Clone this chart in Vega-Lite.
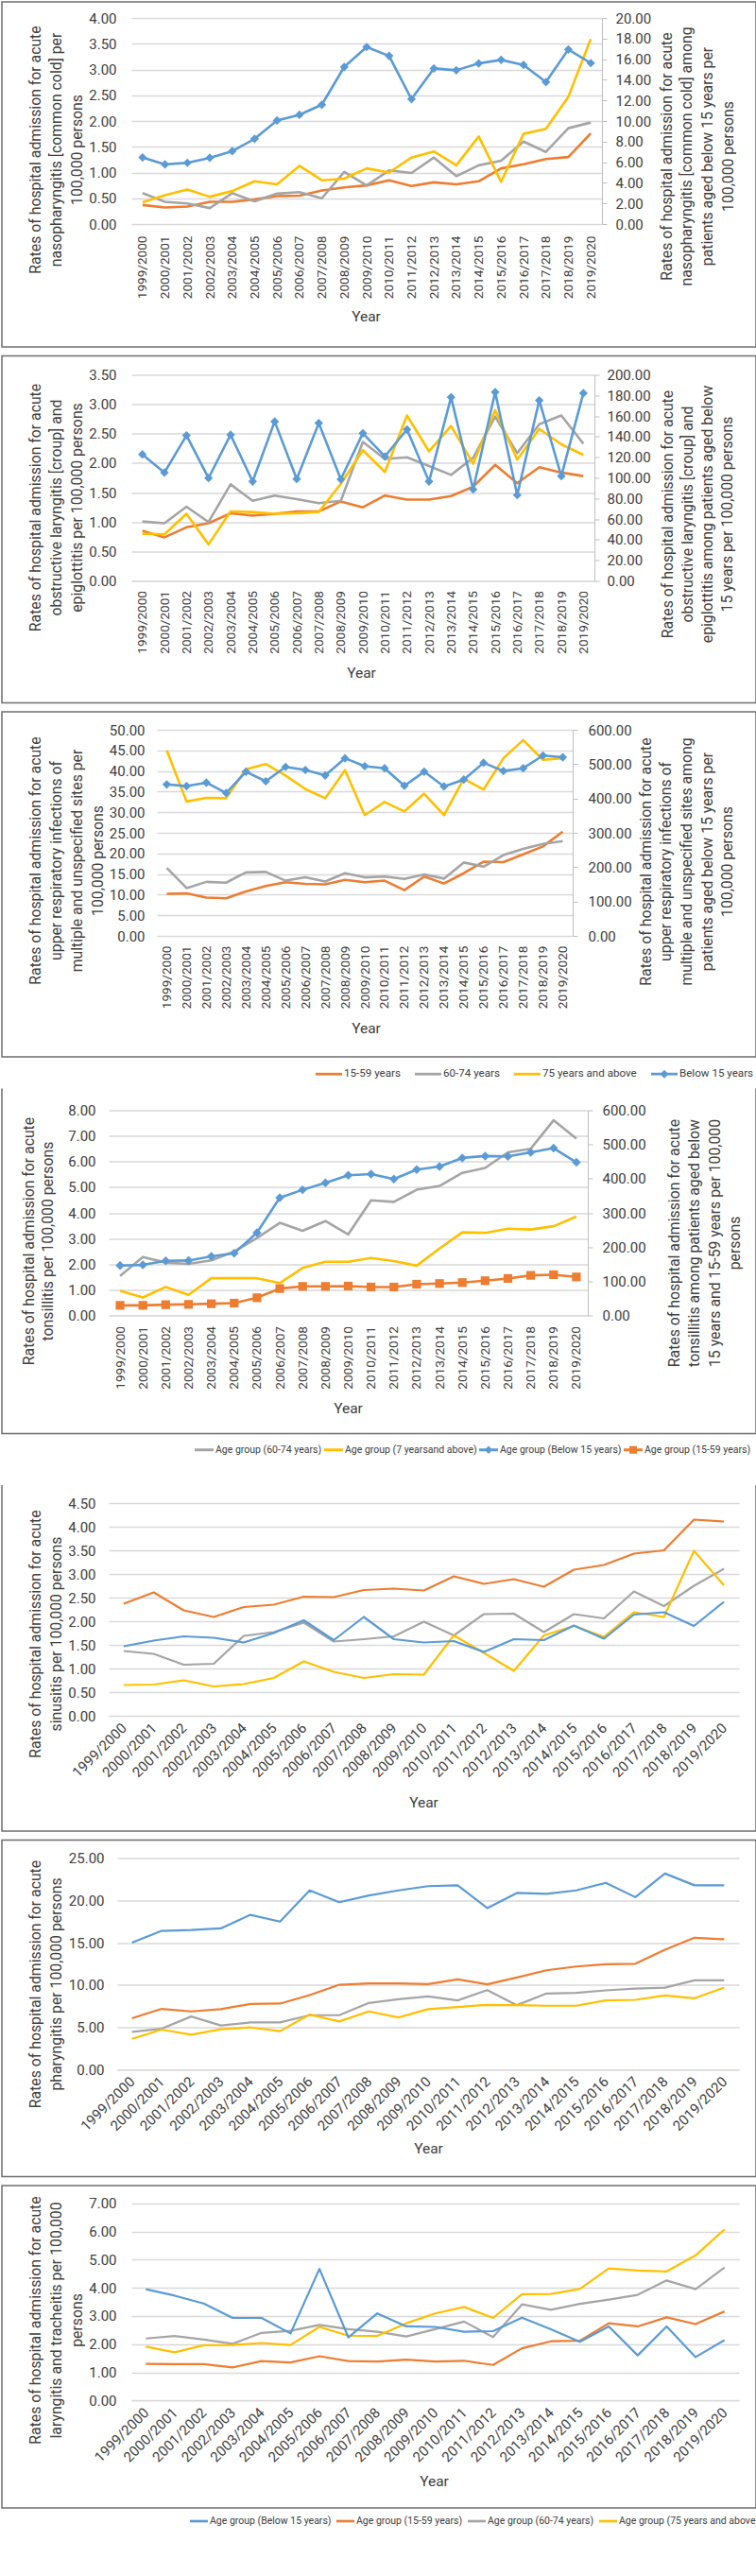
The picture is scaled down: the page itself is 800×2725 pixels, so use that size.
{
"$schema": "https://vega.github.io/schema/vega-lite/v6.json",
"padding": {"left": 1, "top": 1, "right": 1, "bottom": 1},
"background": "white",
"spacing": 7.5,
"config": {
 "view": {"stroke": "#6E6E6E", "strokeWidth": 1.5},
 "font": "Roboto",
 "axis": {"labelFont": "Roboto", "labelColor": "#404040", "labelFontSize": 15, "titleFont": "Roboto", "titleFontSize": 15.8, "titleFontWeight": "normal", "titleColor": "#404040", "gridColor": "#D9D9D9", "gridWidth": 1.3},
 "legend": {"labelFont": "Roboto", "labelColor": "#404040"}
},
"resolve": {"scale": {"color": "independent", "shape": "independent", "stroke": "independent"}, "legend": {"color": "independent", "shape": "independent", "stroke": "independent"}},
"datasets": {
 "p1": [
  {"year":"1999/2000","a":0.37,"b":0.60,"c":0.42,"d":6.46},
  {"year":"2000/2001","a":0.32,"b":0.43,"c":0.56,"d":5.79},
  {"year":"2001/2002","a":0.34,"b":0.40,"c":0.67,"d":5.94},
  {"year":"2002/2003","a":0.43,"b":0.31,"c":0.53,"d":6.43},
  {"year":"2003/2004","a":0.43,"b":0.60,"c":0.64,"d":7.07},
  {"year":"2004/2005","a":0.48,"b":0.44,"c":0.83,"d":8.27},
  {"year":"2005/2006","a":0.54,"b":0.59,"c":0.77,"d":10.05},
  {"year":"2006/2007","a":0.55,"b":0.62,"c":1.13,"d":10.60},
  {"year":"2007/2008","a":0.65,"b":0.50,"c":0.85,"d":11.58},
  {"year":"2008/2009","a":0.71,"b":1.01,"c":0.88,"d":15.25},
  {"year":"2009/2010","a":0.75,"b":0.75,"c":1.08,"d":17.18},
  {"year":"2010/2011","a":0.85,"b":1.04,"c":1.00,"d":16.32},
  {"year":"2011/2012","a":0.74,"b":0.99,"c":1.29,"d":12.13},
  {"year":"2012/2013","a":0.81,"b":1.29,"c":1.41,"d":15.10},
  {"year":"2013/2014","a":0.77,"b":0.93,"c":1.14,"d":14.92},
  {"year":"2014/2015","a":0.83,"b":1.14,"c":1.70,"d":15.59},
  {"year":"2015/2016","a":1.08,"b":1.23,"c":0.82,"d":15.93},
  {"year":"2016/2017","a":1.16,"b":1.60,"c":1.75,"d":15.44},
  {"year":"2017/2018","a":1.26,"b":1.40,"c":1.85,"d":13.78},
  {"year":"2018/2019","a":1.30,"b":1.86,"c":2.47,"d":16.94},
  {"year":"2019/2020","a":1.76,"b":1.97,"c":3.59,"d":15.62}
 ],
 "p2": [
  {"year":"1999/2000","a":0.85,"b":1.01,"c":0.80,"d":122.8},
  {"year":"2000/2001","a":0.74,"b":0.98,"c":0.79,"d":105.1},
  {"year":"2001/2002","a":0.91,"b":1.26,"c":1.14,"d":141.2},
  {"year":"2002/2003","a":0.98,"b":1.00,"c":0.62,"d":99.8},
  {"year":"2003/2004","a":1.15,"b":1.64,"c":1.18,"d":141.8},
  {"year":"2004/2005","a":1.11,"b":1.36,"c":1.17,"d":96.5},
  {"year":"2005/2006","a":1.14,"b":1.45,"c":1.14,"d":154.7},
  {"year":"2006/2007","a":1.18,"b":1.39,"c":1.15,"d":98.9},
  {"year":"2007/2008","a":1.18,"b":1.32,"c":1.17,"d":153.1},
  {"year":"2008/2009","a":1.35,"b":1.36,"c":1.65,"d":98.6},
  {"year":"2009/2010","a":1.25,"b":2.36,"c":2.22,"d":143.3},
  {"year":"2010/2011","a":1.45,"b":2.07,"c":1.85,"d":120.7},
  {"year":"2011/2012","a":1.38,"b":2.10,"c":2.81,"d":147.0},
  {"year":"2012/2013","a":1.38,"b":1.95,"c":2.20,"d":96.5},
  {"year":"2013/2014","a":1.44,"b":1.80,"c":2.63,"d":178.3},
  {"year":"2014/2015","a":1.60,"b":2.09,"c":1.99,"d":88.8},
  {"year":"2015/2016","a":1.97,"b":2.79,"c":2.90,"d":183.2},
  {"year":"2016/2017","a":1.66,"b":2.17,"c":2.06,"d":83.3},
  {"year":"2017/2018","a":1.93,"b":2.66,"c":2.58,"d":175.2},
  {"year":"2018/2019","a":1.84,"b":2.81,"c":2.32,"d":101.7},
  {"year":"2019/2020","a":1.78,"b":2.33,"c":2.14,"d":182.2}
 ],
 "p3": [
  {"year":"1999/2000","a":10.2,"b":16.5,"c":45.0,"d":441},
  {"year":"2000/2001","a":10.3,"b":11.6,"c":32.6,"d":436},
  {"year":"2001/2002","a":9.3,"b":13.1,"c":33.5,"d":446},
  {"year":"2002/2003","a":9.1,"b":12.9,"c":33.4,"d":416},
  {"year":"2003/2004","a":10.8,"b":15.4,"c":40.4,"d":478},
  {"year":"2004/2005","a":12.1,"b":15.5,"c":41.7,"d":450},
  {"year":"2005/2006","a":13.0,"b":13.4,"c":38.9,"d":492},
  {"year":"2006/2007","a":12.6,"b":14.2,"c":35.6,"d":483},
  {"year":"2007/2008","a":12.5,"b":13.2,"c":33.4,"d":467},
  {"year":"2008/2009","a":13.6,"b":15.2,"c":40.2,"d":517},
  {"year":"2009/2010","a":13.0,"b":14.2,"c":29.3,"d":494},
  {"year":"2010/2011","a":13.4,"b":14.4,"c":32.5,"d":488},
  {"year":"2011/2012","a":11.1,"b":13.8,"c":30.2,"d":437},
  {"year":"2012/2013","a":14.4,"b":14.9,"c":34.5,"d":478},
  {"year":"2013/2014","a":12.7,"b":13.9,"c":29.3,"d":435},
  {"year":"2014/2015","a":15.2,"b":17.8,"c":38.1,"d":455},
  {"year":"2015/2016","a":18.0,"b":16.8,"c":35.5,"d":504},
  {"year":"2016/2017","a":17.9,"b":19.6,"c":43.1,"d":480},
  {"year":"2017/2018","a":19.8,"b":21.1,"c":47.5,"d":488},
  {"year":"2018/2019","a":21.7,"b":22.3,"c":42.7,"d":525},
  {"year":"2019/2020","a":25.3,"b":23.0,"c":43.1,"d":520}
 ],
 "p4": [
  {"year":"1999/2000","a":29.5,"b":1.54,"c":0.96,"d":145.8},
  {"year":"2000/2001","a":29.5,"b":2.28,"c":0.70,"d":147.7},
  {"year":"2001/2002","a":31.4,"b":2.06,"c":1.11,"d":159.7},
  {"year":"2002/2003","a":32.3,"b":2.01,"c":0.80,"d":160.6},
  {"year":"2003/2004","a":34.2,"b":2.15,"c":1.45,"d":172.6},
  {"year":"2004/2005","a":36.0,"b":2.49,"c":1.45,"d":181.8},
  {"year":"2005/2006","a":51.7,"b":3.02,"c":1.45,"d":241.8},
  {"year":"2006/2007","a":78.5,"b":3.61,"c":1.26,"d":344.3},
  {"year":"2007/2008","a":84.9,"b":3.30,"c":1.85,"d":367.4},
  {"year":"2008/2009","a":84.9,"b":3.68,"c":2.09,"d":387.7},
  {"year":"2009/2010","a":85.8,"b":3.16,"c":2.09,"d":409.8},
  {"year":"2010/2011","a":83.1,"b":4.49,"c":2.24,"d":413.5},
  {"year":"2011/2012","a":83.1,"b":4.43,"c":2.12,"d":398.8},
  {"year":"2012/2013","a":91.4,"b":4.90,"c":1.94,"d":426.5},
  {"year":"2013/2014","a":93.2,"b":5.05,"c":2.61,"d":435.7},
  {"year":"2014/2015","a":96.0,"b":5.56,"c":3.24,"d":460.6},
  {"year":"2015/2016","a":101.5,"b":5.75,"c":3.22,"d":466.2},
  {"year":"2016/2017","a":108.0,"b":6.36,"c":3.38,"d":465.2},
  {"year":"2017/2018","a":117.2,"b":6.50,"c":3.35,"d":477.2},
  {"year":"2018/2019","a":119.1,"b":7.61,"c":3.48,"d":489.2},
  {"year":"2019/2020","a":112.6,"b":6.89,"c":3.85,"d":447.7}
 ],
 "p5": [
  {"year":"1999/2000","a":2.37,"b":1.37,"c":0.65,"d":1.47},
  {"year":"2000/2001","a":2.61,"b":1.31,"c":0.66,"d":1.59},
  {"year":"2001/2002","a":2.23,"b":1.08,"c":0.75,"d":1.68},
  {"year":"2002/2003","a":2.09,"b":1.10,"c":0.62,"d":1.65},
  {"year":"2003/2004","a":2.30,"b":1.69,"c":0.67,"d":1.55},
  {"year":"2004/2005","a":2.35,"b":1.77,"c":0.80,"d":1.75},
  {"year":"2005/2006","a":2.52,"b":1.97,"c":1.15,"d":2.02},
  {"year":"2006/2007","a":2.51,"b":1.57,"c":0.93,"d":1.60},
  {"year":"2007/2008","a":2.66,"b":1.62,"c":0.80,"d":2.09},
  {"year":"2008/2009","a":2.69,"b":1.68,"c":0.88,"d":1.62},
  {"year":"2009/2010","a":2.65,"b":1.99,"c":0.87,"d":1.55},
  {"year":"2010/2011","a":2.95,"b":1.70,"c":1.70,"d":1.58},
  {"year":"2011/2012","a":2.79,"b":2.15,"c":1.33,"d":1.35},
  {"year":"2012/2013","a":2.89,"b":2.16,"c":0.95,"d":1.62},
  {"year":"2013/2014","a":2.73,"b":1.77,"c":1.70,"d":1.60},
  {"year":"2014/2015","a":3.09,"b":2.15,"c":1.90,"d":1.91},
  {"year":"2015/2016","a":3.19,"b":2.06,"c":1.67,"d":1.63},
  {"year":"2016/2017","a":3.43,"b":2.63,"c":2.19,"d":2.14},
  {"year":"2017/2018","a":3.50,"b":2.32,"c":2.09,"d":2.19},
  {"year":"2018/2019","a":4.15,"b":2.75,"c":3.49,"d":1.90},
  {"year":"2019/2020","a":4.11,"b":3.11,"c":2.76,"d":2.41}
 ],
 "p6": [
  {"year":"1999/2000","a":6.04,"b":4.44,"c":3.62,"d":15.0},
  {"year":"2000/2001","a":7.16,"b":4.81,"c":4.70,"d":16.4},
  {"year":"2001/2002","a":6.86,"b":6.26,"c":4.10,"d":16.5},
  {"year":"2002/2003","a":7.12,"b":5.19,"c":4.74,"d":16.7},
  {"year":"2003/2004","a":7.75,"b":5.56,"c":4.96,"d":18.3},
  {"year":"2004/2005","a":7.79,"b":5.56,"c":4.52,"d":17.5},
  {"year":"2005/2006","a":8.79,"b":6.41,"c":6.49,"d":21.2},
  {"year":"2006/2007","a":10.02,"b":6.41,"c":5.67,"d":19.8},
  {"year":"2007/2008","a":10.17,"b":7.86,"c":6.86,"d":20.6},
  {"year":"2008/2009","a":10.17,"b":8.31,"c":6.15,"d":21.2},
  {"year":"2009/2010","a":10.09,"b":8.64,"c":7.12,"d":21.7},
  {"year":"2010/2011","a":10.65,"b":8.16,"c":7.38,"d":21.8},
  {"year":"2011/2012","a":10.06,"b":9.39,"c":7.64,"d":19.1},
  {"year":"2012/2013","a":10.88,"b":7.60,"c":7.60,"d":20.9},
  {"year":"2013/2014","a":11.73,"b":8.98,"c":7.53,"d":20.8},
  {"year":"2014/2015","a":12.18,"b":9.05,"c":7.53,"d":21.2},
  {"year":"2015/2016","a":12.44,"b":9.35,"c":8.16,"d":22.1},
  {"year":"2016/2017","a":12.51,"b":9.57,"c":8.23,"d":20.4},
  {"year":"2017/2018","a":14.18,"b":9.68,"c":8.75,"d":23.2},
  {"year":"2018/2019","a":15.59,"b":10.54,"c":8.42,"d":21.8},
  {"year":"2019/2020","a":15.41,"b":10.54,"c":9.68,"d":21.8}
 ],
 "p7": [
  {"year":"1999/2000","a":1.30,"b":2.20,"c":1.91,"d":3.95},
  {"year":"2000/2001","a":1.29,"b":2.29,"c":1.71,"d":3.72},
  {"year":"2001/2002","a":1.29,"b":2.16,"c":1.96,"d":3.44},
  {"year":"2002/2003","a":1.17,"b":2.01,"c":1.97,"d":2.93},
  {"year":"2003/2004","a":1.40,"b":2.40,"c":2.04,"d":2.93},
  {"year":"2004/2005","a":1.35,"b":2.47,"c":1.97,"d":2.38},
  {"year":"2005/2006","a":1.57,"b":2.68,"c":2.61,"d":4.67},
  {"year":"2006/2007","a":1.40,"b":2.53,"c":2.30,"d":2.24},
  {"year":"2007/2008","a":1.38,"b":2.44,"c":2.29,"d":3.09},
  {"year":"2008/2009","a":1.45,"b":2.27,"c":2.74,"d":2.63},
  {"year":"2009/2010","a":1.38,"b":2.53,"c":3.09,"d":2.61},
  {"year":"2010/2011","a":1.41,"b":2.80,"c":3.32,"d":2.44},
  {"year":"2011/2012","a":1.26,"b":2.25,"c":2.93,"d":2.46},
  {"year":"2012/2013","a":1.85,"b":3.41,"c":3.77,"d":2.94},
  {"year":"2013/2014","a":2.10,"b":3.22,"c":3.78,"d":2.53},
  {"year":"2014/2015","a":2.12,"b":3.43,"c":3.96,"d":2.08},
  {"year":"2015/2016","a":2.74,"b":3.58,"c":4.69,"d":2.63},
  {"year":"2016/2017","a":2.63,"b":3.75,"c":4.61,"d":1.60},
  {"year":"2017/2018","a":2.95,"b":4.26,"c":4.58,"d":2.63},
  {"year":"2018/2019","a":2.71,"b":3.95,"c":5.15,"d":1.54},
  {"year":"2019/2020","a":3.16,"b":4.72,"c":6.07,"d":2.14}
 ]
},
"vconcat": [
 {
  "width": 798, "height": 365,
  "data": {"name": "p1"},
  "encoding": {"x": {"field": "year", "type": "ordinal",
    "scale": {"type": "point", "range": [137, 635], "padding": 0.5},
    "axis": {"orient": "bottom", "offset": -130, "domain": true, "domainColor": "#D9D9D9", "ticks": false, "tickSize": 0, "grid": false, "labelAngle": 270, "labelAlign": "right", "labelBaseline": "middle", "labelPadding": 12, "labelFontSize": 13.6,
      "title": "Year", "titleFontSize": 15.5, "titleX": 385, "titleY": 97, "titleAlign": "center", "titleBaseline": "middle", "titleAngle": 0}}},
  "layer": [
   {"transform": [{"fold": ["a", "b", "c"], "as": ["series", "rate"]}],
    "mark": {"type": "line", "strokeWidth": 2.6, "strokeJoin": "round"},
    "encoding": {
     "y": {"field": "rate", "type": "quantitative", "scale": {"domain": [0, 4], "range": [235, 17], "nice": false},
      "axis": {"orient": "left", "offset": -137, "values": [0, 0.5, 1, 1.5, 2, 2.5, 3, 3.5, 4], "format": ".2f", "domain": false, "ticks": false, "tickSize": 0, "labelPadding": 16, "grid": true,
       "title": ["Rates of hospital admission for acute", "nasopharyngitis [common cold] per", "100,000 persons"], "titleX": -102, "titleY": 156, "titleAngle": 270, "titleAlign": "center", "titleBaseline": "middle", "titleLineHeight": 22}},
     "stroke": {"field": "series", "type": "nominal", "scale": {"domain": ["a", "b", "c", "d"], "range": ["#ED7D31", "#A5A5A5", "#FFC000", "#5B9BD5"]}, "legend": null}}},
   {"encoding": {"y": {"field": "d", "type": "quantitative", "scale": {"domain": [0, 20], "range": [235, 17], "nice": false},
      "axis": {"orient": "right", "offset": -163, "values": [0, 2, 4, 6, 8, 10, 12, 14, 16, 18, 20], "format": ".2f", "domain": true, "domainColor": "#BFBFBF", "ticks": true, "tickSize": 5, "tickColor": "#BFBFBF", "labelPadding": 9, "grid": false,
       "title": ["Rates of hospital admission for acute", "nasopharyngitis [common cold] among", "patients aged below 15 years per", "100,000 persons"], "titleX": 68, "titleY": 163, "titleAngle": 270, "titleAlign": "center", "titleBaseline": "middle", "titleLineHeight": 21.7}}},
    "layer": [
     {"mark": {"type": "line", "color": "#5B9BD5", "strokeWidth": 2.6, "strokeJoin": "round"}, "encoding": {}},
     {"mark": {"type": "point", "shape": "diamond", "filled": true, "size": 85, "color": "#5B9BD5", "opacity": 1}}
    ]}
  ],
  "resolve": {"scale": {"y": "independent"}}
 },
 {
  "width": 798, "height": 367,
  "data": {"name": "p2"},
  "encoding": {"x": {"field": "year", "type": "ordinal",
    "scale": {"type": "point", "range": [137, 627], "padding": 0.5},
    "axis": {"orient": "bottom", "offset": -129, "domain": true, "domainColor": "#D9D9D9", "ticks": false, "tickSize": 0, "grid": false, "labelAngle": 270, "labelAlign": "right", "labelBaseline": "middle", "labelPadding": 10, "labelFontSize": 13.6,
      "title": "Year", "titleFontSize": 15.5, "titleX": 380, "titleY": 97, "titleAlign": "center", "titleBaseline": "middle", "titleAngle": 0}}},
  "layer": [
   {"transform": [{"fold": ["a", "b", "c"], "as": ["series", "rate"]}],
    "mark": {"type": "line", "strokeWidth": 2.6, "strokeJoin": "round"},
    "encoding": {
     "y": {"field": "rate", "type": "quantitative", "scale": {"domain": [0, 3.5], "range": [238, 20], "nice": false},
      "axis": {"orient": "left", "offset": -137, "values": [0, 0.5, 1, 1.5, 2, 2.5, 3, 3.5], "format": ".2f", "domain": false, "ticks": false, "tickSize": 0, "labelPadding": 16, "grid": true,
       "title": ["Rates of hospital admission for acute", "obstructive laryngitis [croup] and", "epiglottitis per 100,000 persons"], "titleX": -102, "titleY": 160, "titleAngle": 270, "titleAlign": "center", "titleBaseline": "middle", "titleLineHeight": 22}},
     "stroke": {"field": "series", "type": "nominal", "scale": {"domain": ["a", "b", "c", "d"], "range": ["#ED7D31", "#A5A5A5", "#FFC000", "#5B9BD5"]}, "legend": null}}},
   {"encoding": {"y": {"field": "d", "type": "quantitative", "scale": {"domain": [0, 200], "range": [238, 20], "nice": false},
      "axis": {"orient": "right", "offset": -171, "values": [0, 20, 40, 60, 80, 100, 120, 140, 160, 180, 200], "format": ".2f", "domain": true, "domainColor": "#BFBFBF", "ticks": true, "tickSize": 5, "tickColor": "#BFBFBF", "labelPadding": 8, "grid": false,
       "title": ["Rates of hospital admission for acute", "obstructive laryngitis [croup] and", "epiglottitis among patients aged below", "15 years per 100,000 persons"], "titleX": 77, "titleY": 167, "titleAngle": 270, "titleAlign": "center", "titleBaseline": "middle", "titleLineHeight": 21}}},
    "layer": [
     {"mark": {"type": "line", "color": "#5B9BD5", "strokeWidth": 2.6, "strokeJoin": "round"}, "encoding": {}},
     {"mark": {"type": "point", "shape": "diamond", "filled": true, "size": 85, "color": "#5B9BD5", "opacity": 1}}
    ]}
  ],
  "resolve": {"scale": {"y": "independent"}}
 },
 {
  "width": 798, "height": 365,
  "data": {"name": "p3"},
  "encoding": {"x": {"field": "year", "type": "ordinal",
    "scale": {"type": "point", "range": [164, 604], "padding": 0.5},
    "axis": {"orient": "bottom", "offset": -128, "domain": true, "domainColor": "#D9D9D9", "ticks": false, "tickSize": 0, "grid": false, "labelAngle": 270, "labelAlign": "right", "labelBaseline": "middle", "labelPadding": 10, "labelFontSize": 13.6,
      "title": "Year", "titleFontSize": 15.5, "titleX": 385, "titleY": 97, "titleAlign": "center", "titleBaseline": "middle", "titleAngle": 0}}},
  "layer": [
   {"transform": [{"fold": ["a", "b", "c"], "as": ["series", "rate"]}],
    "mark": {"type": "line", "strokeWidth": 2.6, "strokeJoin": "round"},
    "encoding": {
     "y": {"field": "rate", "type": "quantitative", "scale": {"domain": [0, 50], "range": [237, 19], "nice": false},
      "axis": {"orient": "left", "offset": -164, "values": [0, 5, 10, 15, 20, 25, 30, 35, 40, 45, 50], "format": ".2f", "domain": false, "ticks": false, "tickSize": 0, "labelPadding": 13, "grid": true,
       "title": ["Rates of hospital admission for acute", "upper respiratory infections of", "multiple and unspecified sites per", "100,000 persons"], "titleX": -129, "titleY": 157, "titleAngle": 270, "titleAlign": "center", "titleBaseline": "middle", "titleLineHeight": 22}},
     "stroke": {"field": "series", "type": "nominal", "scale": {"domain": ["a", "b", "c", "d"], "range": ["#ED7D31", "#A5A5A5", "#FFC000", "#5B9BD5"]}, "legend": null}}},
   {"encoding": {"y": {"field": "d", "type": "quantitative", "scale": {"domain": [0, 600], "range": [237, 19], "nice": false},
      "axis": {"orient": "right", "offset": -194, "values": [0, 100, 200, 300, 400, 500, 600], "format": ".2f", "domain": true, "domainColor": "#BFBFBF", "ticks": true, "tickSize": 5, "tickColor": "#BFBFBF", "labelPadding": 11, "grid": false,
       "title": ["Rates of hospital admission for acute", "upper respiratory infections of", "multiple and unspecified sites among", "patients aged below 15 years per", "100,000 persons"], "titleX": 77, "titleY": 158, "titleAngle": 270, "titleAlign": "center", "titleBaseline": "middle", "titleLineHeight": 21.7}}},
    "layer": [
     {"mark": {"type": "line", "color": "#5B9BD5", "strokeWidth": 2.6, "strokeJoin": "round"}, "encoding": {}},
     {"mark": {"type": "point", "shape": "diamond", "filled": true, "size": 85, "color": "#5B9BD5", "opacity": 1}}
    ]},
   {"transform": [{"filter": "false"}],
    "mark": {"type": "point", "filled": true, "opacity": 1},
    "encoding": {
     "color": {"field": "series", "type": "nominal", "scale": {"domain": ["15-59 years", "60-74 years", "75 years and above", "Below 15 years"], "range": ["#ED7D31", "#A5A5A5", "#FFC000", "#5B9BD5"]},
      "legend": {"orient": "none", "legendX": 332, "legendY": 369, "direction": "horizontal", "title": null, "labelFontSize": 11.6, "labelOffset": 2, "columnPadding": 15, "symbolSize": 784, "symbolStrokeWidth": 0, "padding": 0, "labelLimit": 300}},
     "shape": {"field": "series", "type": "nominal", "scale": {"domain": ["15-59 years", "60-74 years", "75 years and above", "Below 15 years"], "range": ["M-1,-0.1H1V0.1H-1Z", "M-1,-0.1H1V0.1H-1Z", "M-1,-0.1H1V0.1H-1Z", "M-1,-0.1H1V0.1H-1ZM0,-0.32L0.32,0L0,0.32L-0.32,0Z"]},
      "legend": {"orient": "none", "legendX": 332, "legendY": 369, "direction": "horizontal", "title": null, "labelFontSize": 11.6, "labelOffset": 2, "columnPadding": 15, "symbolSize": 784, "symbolStrokeWidth": 0, "padding": 0, "labelLimit": 300}}}}
  ],
  "resolve": {"scale": {"y": "independent"}}
 },
 {
  "width": 798, "height": 365,
  "view": {"stroke": "#6E6E6E", "strokeWidth": 1.5, "strokeDash": [0, 798, 1528, 0]},
  "data": {"name": "p4"},
  "encoding": {"x": {"field": "year", "type": "ordinal",
    "scale": {"type": "point", "range": [113, 620], "padding": 0.5},
    "axis": {"orient": "bottom", "offset": -125, "domain": true, "domainColor": "#D9D9D9", "ticks": false, "tickSize": 0, "grid": false, "labelAngle": 270, "labelAlign": "right", "labelBaseline": "middle", "labelPadding": 11, "labelFontSize": 13.6,
      "title": "Year", "titleFontSize": 15.5, "titleX": 366, "titleY": 98, "titleAlign": "center", "titleBaseline": "middle", "titleAngle": 0}}},
  "layer": [
   {"transform": [{"fold": ["b", "c"], "as": ["series", "rate"]}],
    "mark": {"type": "line", "strokeWidth": 2.6, "strokeJoin": "round"},
    "encoding": {
     "y": {"field": "rate", "type": "quantitative", "scale": {"domain": [0, 8], "range": [240, 23], "nice": false},
      "axis": {"orient": "left", "offset": -113, "values": [0, 1, 2, 3, 4, 5, 6, 7, 8], "format": ".2f", "domain": false, "ticks": false, "tickSize": 0, "labelPadding": 14, "grid": true,
       "title": ["Rates of hospital admission for acute", "tonsillitis per 100,000 persons"], "titleX": -85, "titleY": 161, "titleAngle": 270, "titleAlign": "center", "titleBaseline": "middle", "titleLineHeight": 20}},
     "stroke": {"field": "series", "type": "nominal", "scale": {"domain": ["a", "b", "c", "d"], "range": ["#ED7D31", "#A5A5A5", "#FFC000", "#5B9BD5"]}, "legend": null}}},
   {"transform": [{"fold": ["a", "d"], "as": ["series", "rate2"]}],
    "encoding": {"y": {"field": "rate2", "type": "quantitative", "scale": {"domain": [0, 600], "range": [240, 23], "nice": false},
      "axis": {"orient": "right", "offset": -178, "values": [0, 100, 200, 300, 400, 500, 600], "format": ".2f", "domain": true, "domainColor": "#BFBFBF", "ticks": true, "tickSize": 5, "tickColor": "#BFBFBF", "labelPadding": 10, "grid": false,
       "title": ["Rates of hospital admission for acute", "tonsillitis among patients aged below", "15 years and 15-59 years per 100,000", "persons"], "titleX": 91, "titleY": 163, "titleAngle": 270, "titleAlign": "center", "titleBaseline": "middle", "titleLineHeight": 21.5}}},
    "layer": [
     {"mark": {"type": "line", "strokeWidth": 2.6, "strokeJoin": "round"},
      "encoding": {"stroke": {"field": "series", "type": "nominal", "scale": {"domain": ["a", "b", "c", "d"], "range": ["#ED7D31", "#A5A5A5", "#FFC000", "#5B9BD5"]}, "legend": null}}},
     {"transform": [{"filter": "datum.series == 'a'"}], "mark": {"type": "point", "shape": "square", "filled": true, "size": 85, "color": "#ED7D31", "opacity": 1}},
     {"transform": [{"filter": "datum.series == 'd'"}], "mark": {"type": "point", "shape": "diamond", "filled": true, "size": 90, "color": "#5B9BD5", "opacity": 1}}
    ]},
   {"transform": [{"filter": "false"}],
    "mark": {"type": "point", "filled": true, "opacity": 1},
    "encoding": {
     "color": {"field": "series", "type": "nominal", "scale": {"domain": ["Age group (60-74 years)", "Age group (7 yearsand above)", "Age group (Below 15 years)", "Age group (15-59 years)"], "range": ["#A5A5A5", "#FFC000", "#5B9BD5", "#ED7D31"]},
      "legend": {"orient": "none", "legendX": 204, "legendY": 372, "direction": "horizontal", "title": null, "labelFontSize": 10.5, "labelOffset": 2, "columnPadding": 2, "symbolSize": 400, "symbolStrokeWidth": 0, "padding": 0, "labelLimit": 300}},
     "shape": {"field": "series", "type": "nominal", "scale": {"domain": ["Age group (60-74 years)", "Age group (7 yearsand above)", "Age group (Below 15 years)", "Age group (15-59 years)"], "range": ["M-1,-0.15H1V0.15H-1Z", "M-1,-0.15H1V0.15H-1Z", "M-1,-0.15H1V0.15H-1ZM0,-0.42L0.42,0L0,0.42L-0.42,0Z", "M-1,-0.15H1V0.15H-1ZM-0.4,-0.4H0.4V0.4H-0.4Z"]},
      "legend": {"orient": "none", "legendX": 204, "legendY": 372, "direction": "horizontal", "title": null, "labelFontSize": 10.5, "labelOffset": 2, "columnPadding": 2, "symbolSize": 400, "symbolStrokeWidth": 0, "padding": 0, "labelLimit": 300}}}}
  ],
  "resolve": {"scale": {"y": "independent"}}
 },
 {
  "width": 798, "height": 366,
  "title": {"text": " ", "fontSize": 2, "offset": 19.5},
  "view": {"stroke": "#6E6E6E", "strokeWidth": 1.5, "strokeDash": [0, 798, 1530, 0]},
  "data": {"name": "p5"},
  "transform": [{"fold": ["a", "b", "c", "d"], "as": ["series", "rate"]}],
  "mark": {"type": "line", "strokeWidth": 2.2, "strokeJoin": "round"},
  "encoding": {
   "x": {"field": "year", "type": "ordinal",
    "scale": {"type": "point", "range": [113, 780], "padding": 0.5},
    "axis": {"orient": "bottom", "offset": -122, "domain": true, "domainColor": "#D9D9D9", "ticks": false, "tickSize": 0, "grid": false, "labelAngle": -45, "labelAlign": "right", "labelBaseline": "middle", "labelPadding": 10, "labelFontSize": 15,
     "title": "Year", "titleFontSize": 15.5, "titleX": 446, "titleY": 91, "titleAlign": "center", "titleBaseline": "middle", "titleAngle": 0}},
   "y": {"field": "rate", "type": "quantitative", "scale": {"domain": [0, 4.5], "range": [244, 19], "nice": false},
    "axis": {"orient": "left", "offset": -113, "values": [0, 0.5, 1, 1.5, 2, 2.5, 3, 3.5, 4, 4.5], "format": ".2f", "domain": false, "ticks": false, "tickSize": 0, "labelPadding": 14, "grid": true,
     "title": ["Rates of hospital admission for acute", "sinusitis per 100,000 persons"], "titleX": -78, "titleY": 157, "titleAngle": 270, "titleAlign": "center", "titleBaseline": "middle", "titleLineHeight": 22}},
   "stroke": {"field": "series", "type": "nominal", "scale": {"domain": ["a", "b", "c", "d"], "range": ["#ED7D31", "#A5A5A5", "#FFC000", "#5B9BD5"]}, "legend": null}
  }
 },
 {
  "width": 798, "height": 356,
  "data": {"name": "p6"},
  "transform": [{"fold": ["a", "b", "c", "d"], "as": ["series", "rate"]}],
  "mark": {"type": "line", "strokeWidth": 2.2, "strokeJoin": "round"},
  "encoding": {
   "x": {"field": "year", "type": "ordinal",
    "scale": {"type": "point", "range": [122, 780], "padding": 0.5},
    "axis": {"orient": "bottom", "offset": -113.5, "domain": true, "domainColor": "#D9D9D9", "ticks": false, "tickSize": 0, "grid": false, "labelAngle": -45, "labelAlign": "right", "labelBaseline": "middle", "labelPadding": 10, "labelFontSize": 15,
     "title": "Year", "titleFontSize": 15.5, "titleX": 451, "titleY": 83.5, "titleAlign": "center", "titleBaseline": "middle", "titleAngle": 0}},
   "y": {"field": "rate", "type": "quantitative", "scale": {"domain": [0, 25], "range": [242.5, 19.3], "nice": false},
    "axis": {"orient": "left", "offset": -122, "values": [0, 5, 10, 15, 20, 25], "format": ".2f", "domain": false, "ticks": false, "tickSize": 0, "labelPadding": 14, "grid": true,
     "title": ["Rates of hospital admission for acute", "pharyngitis per 100,000 persons"], "titleX": -87, "titleY": 152, "titleAngle": 270, "titleAlign": "center", "titleBaseline": "middle", "titleLineHeight": 22}},
   "stroke": {"field": "series", "type": "nominal", "scale": {"domain": ["a", "b", "c", "d"], "range": ["#ED7D31", "#A5A5A5", "#FFC000", "#5B9BD5"]}, "legend": null}
  }
 },
 {
  "width": 798, "height": 341,
  "data": {"name": "p7"},
  "encoding": {"x": {"field": "year", "type": "ordinal",
    "scale": {"type": "point", "range": [137, 780], "padding": 0.5},
    "axis": {"orient": "bottom", "offset": -113.7, "domain": true, "domainColor": "#D9D9D9", "ticks": false, "tickSize": 0, "grid": false, "labelAngle": -45, "labelAlign": "right", "labelBaseline": "middle", "labelPadding": 10, "labelFontSize": 15,
     "title": "Year", "titleFontSize": 15.5, "titleX": 457, "titleY": 84.7, "titleAlign": "center", "titleBaseline": "middle", "titleAngle": 0}}},
  "layer": [
   {"transform": [{"fold": ["a", "b", "c", "d"], "as": ["series", "rate"]}],
    "mark": {"type": "line", "strokeWidth": 2.2, "strokeJoin": "round"},
    "encoding": {
     "y": {"field": "rate", "type": "quantitative", "scale": {"domain": [0, 7], "range": [227.3, 18.7], "nice": false},
      "axis": {"orient": "left", "offset": -137, "values": [0, 1, 2, 3, 4, 5, 6, 7], "format": ".2f", "domain": false, "ticks": false, "tickSize": 0, "labelPadding": 16, "grid": true,
       "title": ["Rates of hospital admission for acute", "laryngitis and tracheitis per 100,000", "persons"], "titleX": -102, "titleY": 142, "titleAngle": 270, "titleAlign": "center", "titleBaseline": "middle", "titleLineHeight": 22}},
     "stroke": {"field": "series", "type": "nominal", "scale": {"domain": ["a", "b", "c", "d"], "range": ["#ED7D31", "#A5A5A5", "#FFC000", "#5B9BD5"]}, "legend": null}}},
   {"transform": [{"filter": "false"}],
    "mark": {"type": "point", "filled": true, "opacity": 1},
    "encoding": {
     "color": {"field": "series", "type": "nominal", "scale": {"domain": ["Age group (Below 15 years)", "Age group (15-59 years)", "Age group (60-74 years)", "Age group (75 years and above)"], "range": ["#5B9BD5", "#ED7D31", "#A5A5A5", "#FFC000"]},
      "legend": {"orient": "none", "legendX": 199, "legendY": 345.5, "direction": "horizontal", "title": null, "labelFontSize": 10.5, "labelOffset": 2, "columnPadding": 5, "symbolSize": 361, "symbolStrokeWidth": 0, "padding": 0, "labelLimit": 300}},
     "shape": {"field": "series", "type": "nominal", "scale": {"domain": ["Age group (Below 15 years)", "Age group (15-59 years)", "Age group (60-74 years)", "Age group (75 years and above)"], "range": ["M-1,-0.14H1V0.14H-1Z", "M-1,-0.14H1V0.14H-1Z", "M-1,-0.14H1V0.14H-1Z", "M-1,-0.14H1V0.14H-1Z"]},
      "legend": {"orient": "none", "legendX": 199, "legendY": 345.5, "direction": "horizontal", "title": null, "labelFontSize": 10.5, "labelOffset": 2, "columnPadding": 5, "symbolSize": 361, "symbolStrokeWidth": 0, "padding": 0, "labelLimit": 300}}}}
  ]
 }
]
}
